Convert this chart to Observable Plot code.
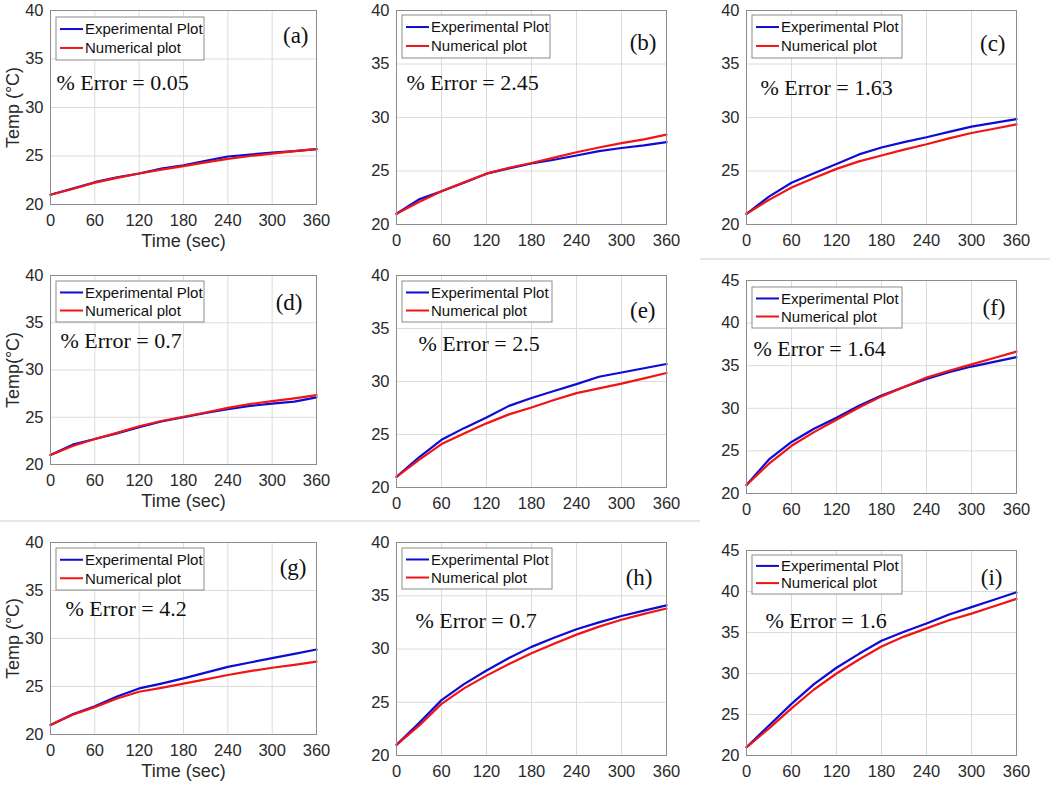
<!DOCTYPE html>
<html><head><meta charset="utf-8">
<script src="https://cdn.jsdelivr.net/npm/d3@7"></script>
<script src="https://cdn.jsdelivr.net/npm/@observablehq/plot@0.6"></script>
<style>
html,body{margin:0;padding:0;background:#fff;}
#root{position:relative;width:1050px;height:785px;overflow:hidden;font-family:"Liberation Sans",Arial,sans-serif;}
.panel{position:absolute;}
.sep{position:absolute;background:#e6e6e6;height:2px;}
</style></head><body><div id="root"></div>
<script>
// ---- data ----
const time = [0,30,60,90,120,150,180,210,240,270,300,330,360];
const xTicks = [0,60,120,180,240,300,360];
const seriesNames = ["Experimental Plot","Numerical plot"];

const expA = [21, 21.65, 22.3, 22.8, 23.2, 23.7, 24.05, 24.5, 24.95, 25.15, 25.35, 25.5, 25.7];
const numA = [21, 21.6, 22.25, 22.75, 23.2, 23.6, 23.95, 24.35, 24.7, 25.0, 25.25, 25.5, 25.7];
const expB = [21, 22.35, 23.1, 23.9, 24.75, 25.25, 25.7, 26.05, 26.45, 26.85, 27.15, 27.4, 27.7];
const numB = [21, 22.1, 23.1, 23.95, 24.75, 25.3, 25.75, 26.25, 26.75, 27.2, 27.6, 27.95, 28.4];
const expC = [21, 22.6, 23.9, 24.8, 25.65, 26.55, 27.2, 27.7, 28.15, 28.65, 29.15, 29.5, 29.85];
const numC = [21, 22.3, 23.45, 24.35, 25.2, 25.9, 26.45, 27.0, 27.5, 28.05, 28.55, 28.95, 29.35];
const expD = [21, 22.1, 22.7, 23.3, 23.95, 24.55, 25.0, 25.45, 25.85, 26.2, 26.45, 26.65, 27.1];
const numD = [21, 21.95, 22.7, 23.35, 24.05, 24.6, 25.05, 25.5, 26.0, 26.4, 26.7, 27.0, 27.35];
const expE = [21, 22.85, 24.5, 25.6, 26.6, 27.7, 28.45, 29.1, 29.75, 30.45, 30.85, 31.25, 31.65];
const numE = [21, 22.6, 24.1, 25.1, 26.05, 26.9, 27.55, 28.25, 28.9, 29.35, 29.8, 30.3, 30.8];
const expF = [21, 24.0, 26.05, 27.6, 28.9, 30.3, 31.5, 32.5, 33.45, 34.25, 34.9, 35.45, 36.0];
const numF = [21, 23.5, 25.6, 27.2, 28.65, 30.1, 31.4, 32.5, 33.6, 34.4, 35.15, 35.9, 36.65];
const expG = [21, 22.1, 22.95, 23.95, 24.8, 25.3, 25.85, 26.45, 27.05, 27.5, 27.95, 28.4, 28.85];
const numG = [21, 22.05, 22.85, 23.75, 24.45, 24.85, 25.3, 25.75, 26.2, 26.6, 26.95, 27.25, 27.6];
const expH = [21, 23.05, 25.2, 26.7, 27.98, 29.15, 30.2, 31.05, 31.85, 32.5, 33.1, 33.6, 34.1];
const numH = [21, 22.8, 24.85, 26.3, 27.5, 28.6, 29.6, 30.5, 31.35, 32.1, 32.75, 33.3, 33.8];
const expI = [21, 23.65, 26.3, 28.7, 30.7, 32.4, 34.0, 35.1, 36.1, 37.2, 38.1, 39.0, 39.9];
const numI = [21, 23.3, 25.75, 28.05, 30.0, 31.7, 33.3, 34.5, 35.5, 36.5, 37.3, 38.2, 39.1];

const expSeries = [expA, expB, expC, expD, expE, expF, expG, expH, expI];
const numSeries = [numA, numB, numC, numD, numE, numF, numG, numH, numI];
const panelLabels = ["(a)","(b)","(c)","(d)","(e)","(f)","(g)","(h)","(i)"];
const errorLabels = ["% Error = 0.05","% Error = 2.45","% Error = 1.63","% Error = 0.7","% Error = 2.5","% Error = 1.64","% Error = 4.2","% Error = 0.7","% Error = 1.6"];
const yMaxes = [40,40,40,40,40,45,40,40,45];
const yTitles = ["Temp (°C)",null,null,"Temp(°C)",null,null,"Temp (°C)",null,null];
const xTitles = ["Time (sec)",null,null,"Time (sec)",null,null,"Time (sec)",null,null];

// ---- layout (frame boxes in page px: left, top, right, bottom) ----
const frames = [
  [50,10,316,204],[396,10,666,224],[746,10,1016,224],
  [50,275,316,464],[396,275,666,487],[746,280,1016,493],
  [50,542,316,734],[396,542,666,755],[746,550,1016,755]
];
const labelPos = [[8,25],[10,32],[11,33],[14,27],[11,35],[11,27],[10,25],[14,35],[14,27]];
const errorPos = [[6,72],[10,72],[14,77],[10,65],[22,68],[7,68],[15,66],[19,78],[19,70]];
const legendBox = [[6,7,148,43],[6,5,148,43],[6,5,150,43],[6,6,148,41],[6,6,150,41],[6,7,150,41],[6,6,148,42],[6,6,150,41],[6,5,150,39]];

const root = document.getElementById("root");
[[700,258,350],[0,520,700]].forEach(([x,y,w])=>{
  const d=document.createElement("div");d.className="sep";
  d.style.left=x+"px";d.style.top=y+"px";d.style.width=w+"px";root.appendChild(d);
});

function legendMark(box){
  return (index, scales, values, dims) => {
    const g = d3.create("svg:g");
    const x0 = dims.marginLeft + box[0], y0 = dims.marginTop + box[1];
    g.append("rect").attr("x",x0).attr("y",y0).attr("width",box[2]).attr("height",box[3])
      .attr("fill","#fff").attr("stroke","#8c8c8c").attr("stroke-width",1);
    seriesNames.forEach((name,k)=>{
      const yy = y0 + box[3]*(k===0?0.28:0.72);
      g.append("line").attr("x1",x0+4).attr("x2",x0+27).attr("y1",yy).attr("y2",yy)
        .attr("stroke",scales.color(name)).attr("stroke-width",2);
      g.append("text").attr("x",x0+29).attr("y",yy).attr("dy","0.36em")
        .attr("text-anchor","start")
        .attr("font-size",15).attr("fill","#111").text(name);
    });
    return g.node();
  };
}

frames.forEach((f,i)=>{
  const ml=60, mr=20, mt=10, mb=50;
  const w = f[2]-f[0]+ml+mr, h = f[3]-f[1]+mt+mb;
  const rows = [];
  time.forEach((t,j)=>rows.push({t, v: expSeries[i][j], s: seriesNames[0]}));
  time.forEach((t,j)=>rows.push({t, v: numSeries[i][j], s: seriesNames[1]}));
  const yTicks = d3.range(20, yMaxes[i]+1, 5);
  const marks = [
    Plot.gridX(xTicks,{stroke:"#dcdcdc", strokeOpacity:1}),
    Plot.gridY(yTicks,{stroke:"#dcdcdc", strokeOpacity:1}),
    Plot.axisX(xTicks,{tickSize:0, tickPadding:10, label:null, fontSize:16.5, fill:"#2a2a2a"}),
    Plot.axisY(yTicks,{tickSize:0, tickPadding:7, label:null, fontSize:16.5, fill:"#2a2a2a"}),
    Plot.line(rows,{x:"t", y:"v", z:"s", stroke:"s", strokeWidth:2.2}),
    Plot.frame({stroke:"#8c8c8c"}),
    legendMark(legendBox[i]),
    Plot.text([panelLabels[i]],{frameAnchor:"top-right", dx:-labelPos[i][0], dy:labelPos[i][1], textAnchor:"end", lineAnchor:"middle", fontFamily:"Liberation Serif, Times New Roman, serif", fontSize:23, fill:"#111"}),
    Plot.text([errorLabels[i]],{frameAnchor:"top-left", dx:errorPos[i][0], dy:errorPos[i][1], textAnchor:"start", lineAnchor:"middle", fontFamily:"Liberation Serif, Times New Roman, serif", fontSize:22, fill:"#111"})
  ];
  if (yTitles[i]) marks.push(Plot.text([yTitles[i]],{frameAnchor:"left", dx:-37, rotate:-90, textAnchor:"middle", lineAnchor:"middle", fontSize:18, fill:"#2a2a2a"}));
  if (xTitles[i]) marks.push(Plot.text([xTitles[i]],{frameAnchor:"bottom", dy:37, textAnchor:"middle", lineAnchor:"middle", fontSize:18, fill:"#2a2a2a"}));
  const chart = Plot.plot({
    width:w, height:h, marginLeft:ml, marginRight:mr, marginTop:mt, marginBottom:mb,
    style:{fontFamily:"Liberation Sans, Arial, sans-serif", fontSize:"16px", color:"#333", background:"transparent", overflow:"visible"},
    x:{domain:[0,360]},
    y:{domain:[20,yMaxes[i]]},
    color:{domain:seriesNames, range:["#0c0cd4","#f01414"]},
    marks
  });
  const div = document.createElement("div");
  div.className="panel";
  div.style.left=(f[0]-ml)+"px"; div.style.top=(f[1]-mt)+"px";
  div.appendChild(chart);
  root.appendChild(div);
});
</script></body></html>
